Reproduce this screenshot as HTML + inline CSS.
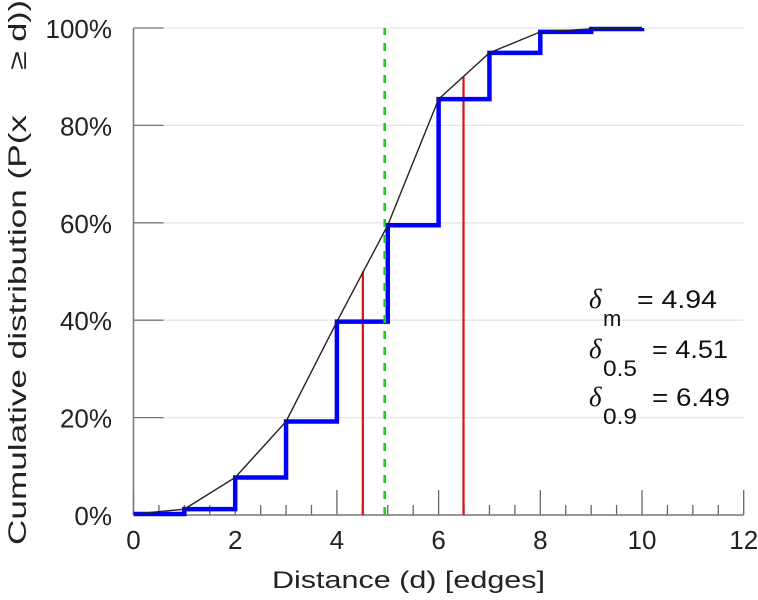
<!DOCTYPE html>
<html><head><meta charset="utf-8"><style>
html,body{margin:0;padding:0;background:#fff;}
svg{display:block;font-family:"Liberation Sans",sans-serif;}
</style></head><body>
<svg id="chart" width="758" height="600" viewBox="0 0 758 600">
<g id="grid"></g>
<g id="axes"></g>
<g id="marks"></g>
<text x="26" y="545" transform="rotate(-90 26 545)" font-size="25" fill="#222" textLength="430" lengthAdjust="spacingAndGlyphs">Cumulative distribution (P(x</text>
<text x="26" y="70" transform="rotate(-90 26 70)" font-size="25" fill="#222" textLength="70" lengthAdjust="spacingAndGlyphs">≥ d))</text>
<text x="272" y="588" font-size="24" fill="#222" textLength="273" lengthAdjust="spacingAndGlyphs">Distance (d) [edges]</text>
<g font-size="25" fill="#111">
<text x="589" y="308" font-family="'Liberation Serif',serif" font-style="italic" font-size="27">δ</text>
<text x="603" y="326" font-size="22">m</text>
<text x="637" y="308" textLength="80" lengthAdjust="spacingAndGlyphs">= 4.94</text>
<text x="589" y="358" font-family="'Liberation Serif',serif" font-style="italic" font-size="27">δ</text>
<text x="603" y="376" font-size="22" textLength="34" lengthAdjust="spacingAndGlyphs">0.5</text>
<text x="652" y="358" textLength="76" lengthAdjust="spacingAndGlyphs">= 4.51</text>
<text x="589" y="406" font-family="'Liberation Serif',serif" font-style="italic" font-size="27">δ</text>
<text x="603" y="424" font-size="22" textLength="34" lengthAdjust="spacingAndGlyphs">0.9</text>
<text x="652" y="406" textLength="78" lengthAdjust="spacingAndGlyphs">= 6.49</text>
</g>
</svg>
<script>
const distances=[0,1,2,3,4,5,6,7,8,9,10];
const cdfValues=[0.2,1.2,7.7,19.2,39.7,59.5,85.4,94.9,99.2,99.8,100];
const xTicks=[0,2,4,6,8,10,12];
const yTicks=[0,20,40,60,80,100];
const meanVal=4.94;
const quantiles=[4.51,6.49];
const quantileLevels=[50,90];
const NS="http://www.w3.org/2000/svg";
const X=d=>133.5+d*50.85;
const Y=p=>515-p*4.87;
function mk(tag,parent,attrs){const e=document.createElementNS(NS,tag);for(const k in attrs)e.setAttribute(k,attrs[k]);parent.appendChild(e);return e;}
const grid=document.getElementById('grid'),axes=document.getElementById('axes'),marks=document.getElementById('marks');
yTicks.forEach(t=>{
 if(t>0){const g=mk('line',grid,{x1:X(0),x2:X(12),y1:Y(t),y2:Y(t),stroke:'#e6e6e6','stroke-width':1.3});
 
 }
 const tk=mk('line',axes,{x1:X(0),x2:X(0)+30,y1:Y(t),y2:Y(t),stroke:'#777','stroke-width':1.3});
 
 
 const lb=mk('text',axes,{x:112,y:Y(t)+10,'text-anchor':'end','font-size':26,fill:'#222'});
 lb.textContent=t+'%';
 
 
});
for(let d=0;d<=12;d+=0.5){
 const major=(d%2===0);
 const tk=mk('line',axes,{x1:X(d),x2:X(d),y1:major?490:505,y2:515,stroke:'#666','stroke-width':1.3});
 
 
}
xTicks.forEach(t=>{
 const lb=mk('text',axes,{x:X(t),y:549,'text-anchor':'middle','font-size':26,fill:'#222'});
 lb.textContent=t;
 
 
});
const ya=mk('line',axes,{x1:X(0),x2:X(0),y1:Y(100),y2:515,stroke:'#777','stroke-width':1.5});


const xa=mk('line',axes,{x1:X(0),x2:X(12),y1:515,y2:515,stroke:'#777','stroke-width':1.5});


quantiles.forEach((q,i)=>{
 const l=mk('line',marks,{x1:X(q),x2:X(q),y1:Y(0),y2:Y(quantileLevels[i]),stroke:'#dd1111','stroke-width':2.2});
 
 
});
let p='M'+X(distances[0])+' '+Y(cdfValues[0]);
for(let i=0;i<distances.length-1;i++){p+=' L'+X(distances[i+1])+' '+Y(cdfValues[i])+' L'+X(distances[i+1])+' '+Y(cdfValues[i+1]);}
const step=mk('path',marks,{d:p,fill:'none',stroke:'#0000ff','stroke-width':4.5,'stroke-linejoin':'miter'});


const cp=distances.map((d,i)=>X(d)+','+Y(cdfValues[i])).join(' ');
const curve=mk('polyline',marks,{points:cp,fill:'none',stroke:'#222','stroke-width':1.4});


const m=mk('line',marks,{x1:X(meanVal),x2:X(meanVal),y1:Y(0),y2:Y(100),stroke:'#22cc22','stroke-width':2.6,'stroke-dasharray':'8 8'});


</script>
</body></html>
